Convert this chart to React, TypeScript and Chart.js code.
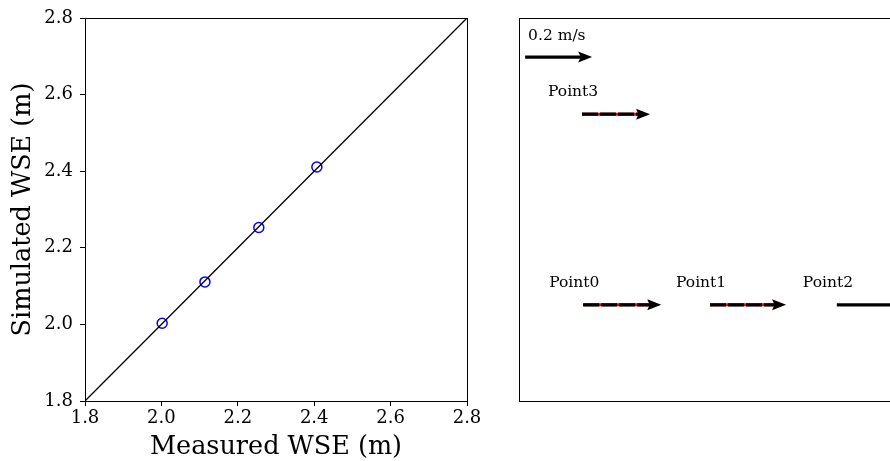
import React, { useEffect, useRef } from 'react';
import { Chart, registerables } from 'chart.js';
Chart.register(...registerables);

// ---- Left panel data (WSE comparison) ----
const measuredWSE = [2.002, 2.114, 2.255, 2.407];
const simulatedWSE = [2.003, 2.111, 2.253, 2.411];
const identityLine = [1.8, 2.8];
const axisTicks = [1.8, 2.0, 2.2, 2.4, 2.6, 2.8];

// ---- Right panel data (velocity vectors) ----
const stationNames = ['Point0', 'Point1', 'Point2', 'Point3'];
const stationX = [16.8, 50.0, 83.2, 16.5];
const stationY = [25.1, 25.1, 25.1, 74.9];
const measuredU = [0.228, 0.222, null, 0.198];
const simulatedU = [0.233, 0.227, 0.232, 0.203];
const refSpeed = 0.2;
const refLabel = '0.2 m/s';
const refX = 1.6;
const refY = 89.8;
const arrowScale = 87.7; // plot units per m/s

const FONT = "'DejaVu Serif', serif";

const boxPlugin = {
  id: 'boxPlugin',
  afterDraw(chart: any) {
    const { ctx, chartArea: a } = chart;
    ctx.save();
    ctx.strokeStyle = '#000';
    ctx.lineWidth = 1;
    ctx.strokeRect(Math.round(a.left) + 0.5, Math.round(a.top) + 0.5, Math.round(a.right - a.left), Math.round(a.bottom - a.top));
    ctx.restore();
  },
};

function drawArrow(ctx: any, x0: number, y0: number, x1: number, y1: number, color: string, width: number, dash: number[], headLen: number, headHalf: number) {
  ctx.save();
  ctx.strokeStyle = color;
  ctx.fillStyle = color;
  ctx.lineWidth = width;
  ctx.setLineDash(dash);
  ctx.beginPath();
  ctx.moveTo(x0, y0);
  ctx.lineTo(x1 - headLen * 0.8, y1);
  ctx.stroke();
  ctx.setLineDash([]);
  ctx.beginPath();
  ctx.moveTo(x1, y1);
  ctx.lineTo(x1 - headLen, y1 - headHalf);
  ctx.lineTo(x1 - headLen * 0.8, y1);
  ctx.lineTo(x1 - headLen, y1 + headHalf);
  ctx.closePath();
  ctx.fill();
  ctx.restore();
}

const arrowPlugin = {
  id: 'arrowPlugin',
  afterDatasetsDraw(chart: any) {
    const { ctx, scales } = chart;
    const xs = scales.x;
    const ys = scales.y;
    ctx.save();
    ctx.font = `15.5px ${FONT}`;
    ctx.fillStyle = '#000';
    ctx.textBaseline = 'middle';
    ctx.textAlign = 'left';
    // reference arrow
    {
      const px = xs.getPixelForValue(refX);
      const py = ys.getPixelForValue(refY);
      const pe = xs.getPixelForValue(refX + refSpeed * arrowScale);
      drawArrow(ctx, px, py, pe, py, '#000', 3.2, [], 14, 5.5);
      ctx.fillText(refLabel, px + 3, py - 21);
    }
    for (let i = 0; i < stationNames.length; i++) {
      const px = xs.getPixelForValue(stationX[i]);
      const py = ys.getPixelForValue(stationY[i]);
      const m = measuredU[i];
      if (m !== null) {
        const pe = xs.getPixelForValue(stationX[i] + (m as number) * arrowScale);
        drawArrow(ctx, px, py, pe, py, '#ff0000', 3, [], 12, 4.5);
      }
      const se = xs.getPixelForValue(stationX[i] + simulatedU[i] * arrowScale);
      drawArrow(ctx, px, py, se, py, '#000', 3.2, m !== null ? [16, 2] : [], 14, 5.5);
      ctx.fillStyle = '#000';
      ctx.fillText(stationNames[i], px - 34, py - 22);
    }
    ctx.restore();
  },
};

export default function App() {
  const leftRef = useRef<HTMLCanvasElement>(null);
  const rightRef = useRef<HTMLCanvasElement>(null);

  useEffect(() => {
    const tickFont = { family: FONT, size: 18 };
    const titleFont = { family: FONT, size: 25.5 };
    const left = new Chart(leftRef.current as HTMLCanvasElement, {
      type: 'scatter',
      data: {
        datasets: [
          {
            data: identityLine.map((v) => ({ x: v, y: v })),
            showLine: true,
            borderColor: '#000',
            borderWidth: 1.3,
            pointRadius: 0,
          },
          {
            data: measuredWSE.map((v, i) => ({ x: v, y: simulatedWSE[i] })),
            pointStyle: 'circle',
            pointRadius: 5,
            pointBorderWidth: 1.5,
            borderColor: '#0000ff',
            backgroundColor: 'rgba(0,0,0,0)',
          },
        ],
      } as any,
      options: {
        animation: false,
        responsive: false,
        devicePixelRatio: 1,
        layout: { padding: { left: 0, right: 17, top: 18, bottom: 0 } },
        plugins: { legend: { display: false }, tooltip: { enabled: false } },
        scales: {
          x: {
            type: 'linear',
            min: 1.8,
            max: 2.8,
            afterFit: (a: any) => { a.height = 60; },
            afterBuildTicks: (a: any) => { a.ticks = axisTicks.map((v) => ({ value: v })); },
            ticks: { font: tickFont, color: '#000', padding: 2, maxRotation: 0, callback: (v: any) => Number(v).toFixed(1) },
            grid: { drawOnChartArea: false, drawTicks: true, tickLength: 5, color: '#000' },
            border: { display: false },
            title: { display: true, text: 'Measured WSE (m)', font: titleFont, color: '#000', padding: { top: 0, bottom: -2 } },
          },
          y: {
            type: 'linear',
            min: 1.8,
            max: 2.8,
            afterFit: (a: any) => { a.width = 85; },
            afterBuildTicks: (a: any) => { a.ticks = axisTicks.map((v) => ({ value: v })); },
            ticks: { font: tickFont, color: '#000', padding: 7, callback: (v: any) => Number(v).toFixed(1) },
            grid: { drawOnChartArea: false, drawTicks: true, tickLength: 5, color: '#000' },
            border: { display: false },
            title: { display: true, text: 'Simulated WSE (m)', font: titleFont, color: '#000', padding: { top: 8, bottom: 0 } },
          },
        },
      } as any,
      plugins: [boxPlugin],
    });

    const right = new Chart(rightRef.current as HTMLCanvasElement, {
      type: 'scatter',
      data: { datasets: [{ data: stationX.map((x, i) => ({ x, y: stationY[i] })), pointRadius: 0 }] },
      options: {
        animation: false,
        responsive: false,
        devicePixelRatio: 1,
        layout: { padding: { left: 39, right: 19, top: 18, bottom: 60 } },
        plugins: { legend: { display: false }, tooltip: { enabled: false } },
        scales: {
          x: { type: 'linear', min: 0, max: 100, display: false },
          y: { type: 'linear', min: 0, max: 100, display: false },
        },
      } as any,
      plugins: [boxPlugin, arrowPlugin],
    });

    return () => {
      left.destroy();
      right.destroy();
    };
  }, []);

  return (
    <div style={{ position: 'fixed', left: 0, top: 0, width: 890, height: 461, overflow: 'hidden', background: '#fff' }}>
      <canvas ref={leftRef} width={484} height={461} style={{ position: 'absolute', left: 0, top: 0, width: 484, height: 461 }} />
      <canvas ref={rightRef} width={440} height={461} style={{ position: 'absolute', left: 480, top: 0, width: 440, height: 461 }} />
    </div>
  );
}
